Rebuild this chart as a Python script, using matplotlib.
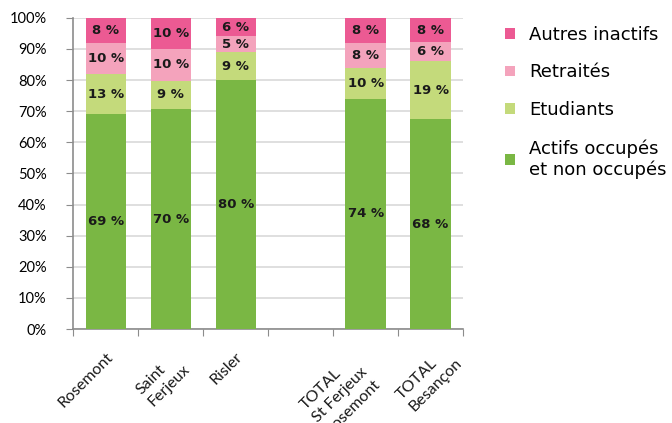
import matplotlib
matplotlib.use("Agg")
import matplotlib.pyplot as plt
import matplotlib.transforms as mtransforms
import numpy as np

categories = ["Rosemont", "Saint\nFerjeux", "Risler", "", "TOTAL\nSt Ferjeux\nRosemont", "TOTAL\nBesançon"]
actifs = [69, 70, 80, None, 74, 68]
etudiants = [13, 9, 9, None, 10, 19]
retraites = [10, 10, 5, None, 8, 6]
autres = [8, 10, 6, None, 8, 8]
series_names = ["Actifs occupés\net non occupés", "Etudiants", "Retraités", "Autres inactifs"]
colors = ["#7AB744", "#C4DA7B", "#F4A3BC", "#EC5A93"]
yticks = [0, 10, 20, 30, 40, 50, 60, 70, 80, 90, 100]

plt.rcParams['font.family'] = ['DejaVu Sans']

fig = plt.figure(figsize=(6.72, 4.23), dpi=100)
ax = fig.add_axes([0.109, 0.222, 0.58, 0.736])

series = [actifs, etudiants, retraites, autres]
n = len(categories)
x = np.arange(n)
vals = np.array([[np.nan if v is None else v for v in s] for s in series], dtype=float)
totals = np.nansum(vals, axis=0)
totals[totals == 0] = 1
pct = vals / totals * 100

bottom = np.zeros(n)
handles = []
for i in range(len(series)):
    h = np.nan_to_num(pct[i])
    b = ax.bar(x, h, bottom=bottom, width=0.62, color=colors[i], zorder=3, label=series_names[i])
    handles.append(b)
    for j in range(n):
        if series[i][j] is not None:
            ax.text(x[j], bottom[j] + h[j] / 2, f"{series[i][j]} %", ha="center", va="center",
                    fontsize=9.5, fontweight="bold", color="#1a1a1a", zorder=4)
    bottom += h

ax.set_xlim(-0.5, n - 0.5)
ax.set_ylim(0, 100)
ax.set_yticks(yticks)
ax.set_yticklabels([f"{t}%" for t in yticks], fontsize=10.5, family=["Lato", "DejaVu Sans"])
ax.yaxis.grid(True, color="#D9D9D9", linewidth=1.2, zorder=0)
ax.set_axisbelow(True)

ax.set_xticks(np.arange(-0.5, n, 1.0))
ax.set_xticklabels([])
ax.tick_params(axis="x", which="major", length=5, color="#8C8C8C", direction="out")
ax.tick_params(axis="y", length=5, color="#8C8C8C", direction="out", pad=14)

# category labels, rotated, hanging below the axis (per-label nudges in pixels)
base = mtransforms.blended_transform_factory(ax.transData, ax.transAxes)
nudges = [(0, 0), (0, 0), (0, 0), (0, 0), (-17, -2), (12, 6)]
for j, (lab, (dx, dy)) in enumerate(zip(categories, nudges)):
    off = mtransforms.ScaledTranslation(dx / 100, (dy - 21) / 100, fig.dpi_scale_trans)
    ax.text(x[j], 0, lab, transform=base + off, rotation=45, ha="right", va="top",
            rotation_mode="anchor", fontsize=11.5, multialignment="left", linespacing=1.3,
            family=["Lato", "DejaVu Sans"], color="#1a1a1a", clip_on=False)

for s in ["top", "right"]:
    ax.spines[s].set_visible(False)
for s in ["left", "bottom"]:
    ax.spines[s].set_color("#8C8C8C")
    ax.spines[s].set_linewidth(1.2)

leg = fig.legend(handles[::-1], series_names[::-1], loc="upper left", bbox_to_anchor=(0.727, 0.978),
                 frameon=False, fontsize=13, handlelength=0.55, handleheight=0.55,
                 labelspacing=1.1, handletextpad=0.8)

fig.savefig("out.png", dpi=100)
